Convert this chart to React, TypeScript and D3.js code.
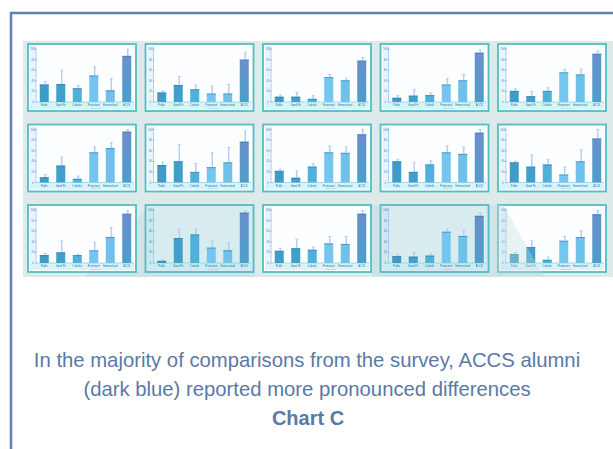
import React from "react";
import * as d3 from "d3";

const categories = ["Public", "Good Pri", "Catholic", "Protestant", "Homeschool", "ACCS"];

// bar means (percent of axis max) for the 15 small charts, row by row
const means: number[][] = [
  [33, 34, 26, 50, 22, 87],
  [18, 32, 24, 16, 16, 80],
  [10, 10, 6, 47, 41, 78],
  [8, 12, 13, 33, 41, 93],
  [21, 11, 21, 56, 52, 91],
  [10, 32, 7, 57, 65, 96],
  [33, 40, 20, 29, 38, 77],
  [22, 9, 30, 57, 56, 91],
  [40, 20, 34, 57, 54, 94],
  [38, 30, 34, 15, 40, 83],
  [15, 20, 15, 24, 49, 93],
  [4, 47, 54, 29, 24, 95],
  [23, 28, 25, 37, 36, 93],
  [13, 12, 14, 59, 51, 89],
  [17, 30, 6, 42, 49, 92],
];

// top of each error bar
const uppers: number[][] = [
  [39, 60, 31, 66, 44, 100],
  [21, 48, 32, 30, 33, 94],
  [13, 18, 12, 52, 45, 84],
  [12, 24, 17, 44, 52, 98],
  [25, 20, 27, 61, 62, 96],
  [15, 48, 12, 67, 75, 100],
  [38, 72, 36, 56, 66, 97],
  [25, 22, 36, 69, 67, 100],
  [44, 38, 41, 69, 67, 100],
  [40, 52, 44, 29, 62, 100],
  [18, 42, 16, 39, 67, 99],
  [7, 64, 64, 43, 39, 99],
  [27, 45, 30, 50, 50, 99],
  [16, 20, 17, 64, 62, 95],
  [20, 42, 11, 50, 61, 99],
];

const yTicks = [0, 20, 40, 60, 80, 100];
const tinted = [11, 13];

const captionLines = [
  "In the majority of comparisons from the survey, ACCS alumni",
  "(dark blue) reported more pronounced differences",
];
const captionTitle = "Chart C";

const barColors = ["#3f9cc6", "#429fca", "#4fb0d9", "#72c6ef", "#6fc1ea", "url(#accsGrad)"];

const W = 613;
const H = 449;
const colX = d3.scalePoint<number>().domain([0, 1, 2, 3, 4]).range([28, 498]);
const rowY = d3.scalePoint<number>().domain([0, 1, 2]).range([44, 205]);
const BOX_W = 108;
const BOX_H = 67;

function SmallChart({ idx }: { idx: number }) {
  const x0 = colX(idx % 5)!;
  const y0 = rowY(Math.floor(idx / 5))!;
  const base = y0 + BOX_H - 9;
  const top = y0 + 5;
  const x = d3.scalePoint<string>().domain(categories).range([x0 + 8, x0 + BOX_W - 1]).padding(0.5);
  const y = d3.scaleLinear().domain([0, 100]).range([base, top]);
  const bw = 9;
  const isTint = tinted.includes(idx);
  return (
    <g>
      <rect x={x0} y={y0} width={BOX_W} height={BOX_H} fill={isTint ? "#d8ecef" : "#fdfeff"} stroke="#55bcc4" strokeWidth={1.8} />
      <rect x={x0 + 2} y={y0 + 2} width={6} height={BOX_H - 10} fill={isTint ? "#cfe6f0" : "#e9f4fc"} />
      <rect x={x0 + 2} y={base} width={BOX_W - 4} height={7} fill={isTint ? "#c9ecf2" : "#d7f4fb"} />
      <line x1={x0 + 8} x2={x0 + 8} y1={top - 2} y2={base} stroke="#9cc6ee" strokeWidth={0.8} />
      <line x1={x0 + 8} x2={x0 + BOX_W - 2} y1={base} y2={base} stroke="#8fd3ea" strokeWidth={0.8} />
      {yTicks.map((t) => (
        <g key={t}>
          <line x1={x0 + 7} x2={x0 + 9} y1={y(t)} y2={y(t)} stroke="#7fa9dc" strokeWidth={0.6} />
          <text x={x0 + 5} y={y(t) + 1} fontSize={2.6} textAnchor="middle" fill="#4f7fb5" fontFamily="Liberation Sans, Arial">{t}</text>
        </g>
      ))}
      {categories.map((c, i) => {
        const cx = x(c)!;
        const v = means[idx][i];
        const u = uppers[idx][i];
        return (
          <g key={c}>
            <line x1={cx + 1} x2={cx + 1} y1={y(v)} y2={y(u)} stroke="#b4ccf4" strokeWidth={1.4} />
            <line x1={cx - 0.5} x2={cx + 2.5} y1={y(u)} y2={y(u)} stroke="#b4ccf4" strokeWidth={1} />
            <rect x={cx - bw / 2} y={y(v)} width={bw} height={base - y(v)} fill={barColors[i]} />
            <rect x={cx - bw / 2} y={y(v)} width={bw} height={1} fill="#2f7fae" opacity={0.6} />
            <text x={cx} y={base + 4} fontSize={2.6} textAnchor="middle" fill="#2f6f9f" fontFamily="Liberation Sans, Arial">{c}</text>
          </g>
        );
      })}
      <text x={x0 + BOX_W / 2 + 14} y={base + 6.8} fontSize={2} textAnchor="middle" fill="#7cc2dc" fontFamily="Liberation Sans, Arial">School type</text>
    </g>
  );
}

export default function App() {
  const idxs = d3.range(15);
  const captionY = d3.scalePoint<number>().domain([0, 1, 2]).range([367, 425]);
  return (
    <svg width={W} height={H} style={{ position: "absolute", left: 0, top: 0 }}>
      <defs>
        <linearGradient id="accsGrad" x1="0" y1="0" x2="0" y2="1">
          <stop offset="0" stopColor="#6b8fcc" />
          <stop offset="1" stopColor="#4c9fca" />
        </linearGradient>
        <filter id="soft" x="-1%" y="-1%" width="102%" height="102%">
          <feGaussianBlur stdDeviation="0.55" />
        </filter>
      </defs>
      <rect x={0} y={0} width={W} height={H} fill="#ffffff" />
      <path d={`M11,${H} V13 H${W}`} fill="none" stroke="#6281ae" strokeWidth={2.5} />
      <g filter="url(#soft)">
        <rect x={23} y={41} width={590} height={236} fill="#dcebea" />
        <polygon points="84,277 150,205 255,205 255,277" fill="#c6e0e2" opacity={0.7} />
        <polygon points="372,277 372,205 495,205 545,277" fill="#c6e0e2" opacity={0.7} />
        {idxs.map((i) => <SmallChart key={i} idx={i} />)}
        <polygon points="497,205 503,205 543,275 497,275" fill="#bcdde2" opacity={0.35} />
      </g>
      {captionLines.map((l, i) => (
        <text key={i} x={307} y={captionY(i)} fontSize={20.3} textAnchor="middle" fill="#5b79a6" fontFamily="Liberation Sans, Arial, sans-serif">{l}</text>
      ))}
      <text x={308} y={captionY(2)} fontSize={20} fontWeight="bold" textAnchor="middle" fill="#5b79a6" fontFamily="Liberation Sans, Arial, sans-serif">{captionTitle}</text>
    </svg>
  );
}
